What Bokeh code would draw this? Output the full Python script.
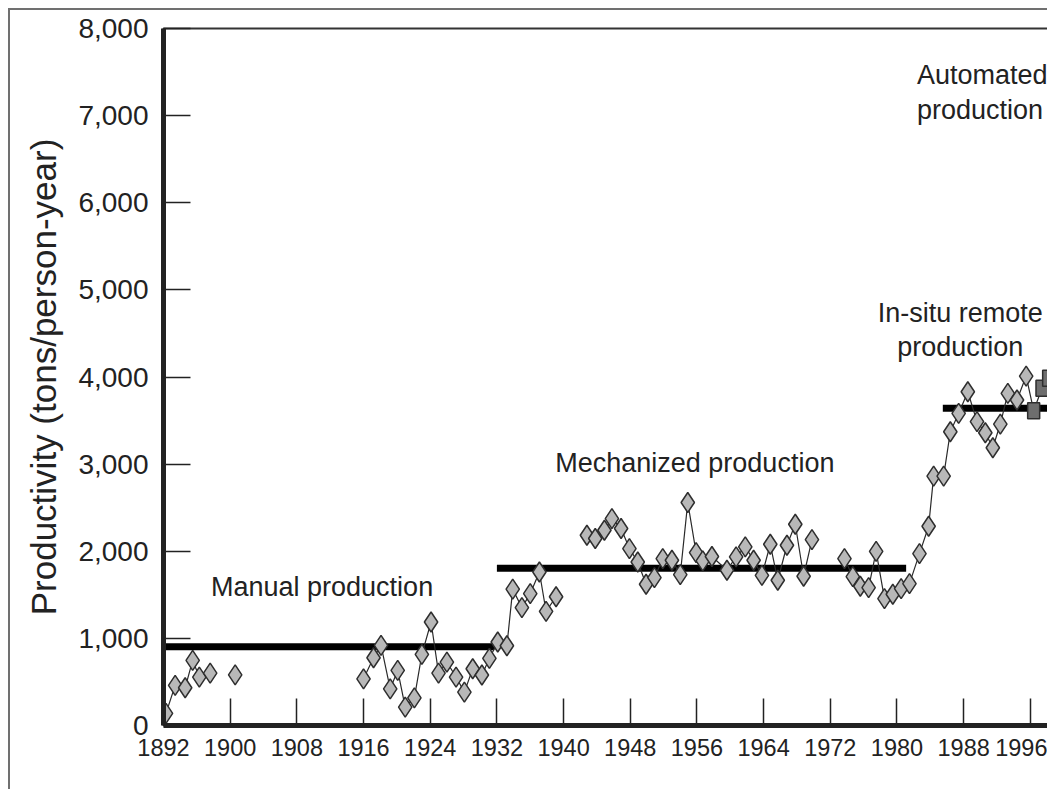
import numpy as np
from bokeh.plotting import figure
from bokeh.models import Range1d, FixedTicker, NumeralTickFormatter, Label, ColumnDataSource
from bokeh.embed import file_html
from bokeh.resources import INLINE

# ---------------- data ----------------
x_ticks = list(range(1892, 1997, 8))
y_ticks = list(range(0, 8001, 1000))

# annual productivity, diamonds; NaN separates unconnected runs
years = [1892.3, 1893.4, 1894.6, 1895.5, 1896.3, 1897.6, np.nan,
         1900.6, np.nan,
         1916.0, 1917.2, 1918.1, 1919.2, 1920.1, 1921.0, 1922.1, 1923.0, 1924.1,
         1925.0, 1926.0, 1927.1, 1928.1, 1929.1, 1930.2, 1931.1, 1932.1, 1933.2,
         1933.9, 1935.0, 1936.0, 1937.1, 1937.9, 1939.1, np.nan,
         1942.8, 1943.8, 1944.9, 1945.8, 1946.9, 1947.9, 1948.9, 1949.9, 1950.9,
         1951.9, 1953.0, 1954.0, 1954.9, 1955.9, 1956.7, 1957.8, 1959.6, 1960.7,
         1961.8, 1962.8, 1963.8, 1964.8, 1965.7, 1966.8, 1967.8, 1968.8, 1969.8, np.nan,
         1973.7, 1974.7, 1975.6, 1976.6, 1977.5, 1978.5, 1979.5, 1980.5, 1981.5,
         1982.7, 1983.8, 1984.4, 1985.6, 1986.4, 1987.4, 1988.5, 1989.6, 1990.6,
         1991.5, 1992.4, 1993.3, 1994.4, 1995.5]
productivity = [140, 460, 433, 747, 556, 602, np.nan,
                582, np.nan,
                536, 778, 920, 421, 632, 211, 318, 816, 1188,
                602, 728, 556, 383, 651, 580, 770, 958, 915,
                1565, 1353, 1513, 1762, 1310, 1478, np.nan,
                2184, 2146, 2241, 2375, 2261, 2031, 1877, 1621, 1697,
                1916, 1897, 1732, 2560, 1985, 1890, 1940, 1782, 1935,
                2050, 1897, 1724, 2080, 1667, 2069, 2310, 1713, 2134, np.nan,
                1916, 1708, 1598, 1582, 1998, 1456, 1506, 1571, 1628,
                1973, 2287, 2862, 2862, 3372, 3582, 3831, 3487, 3360,
                3188, 3460, 3812, 3736, 4011]

# later years, squares
sq_years = [1996.4, 1997.4, 1998.2]
sq_productivity = [3613, 3870, 3985]

# era averages (thick bars)
era_start = [1892.0, 1932.0, 1985.5]
era_end = [1931.7, 1981.1, 2005.0]
era_mean = [903, 1805, 3640]

y_title = "Productivity (tons/person-year)"
FONT = "Liberation Sans"
INK = "#222222"

# ---------------- figure ----------------
p = figure(width=1039, height=781, title=None,
           x_range=Range1d(1892, 1998.3), y_range=Range1d(0, 8000),
           output_backend="svg", toolbar_location=None,
           min_border_left=153, min_border_top=18, min_border_bottom=66, min_border_right=0)
p.styles = {"margin-left": "8px", "margin-top": "8px",
            "border-left": "2px solid #707070", "border-top": "2px solid #707070"}
p.grid.visible = False
p.outline_line_color = "#333333"
p.outline_line_width = 2
p.background_fill_color = "white"
p.border_fill_color = "white"

# axes
for ax in (p.xaxis[0], p.yaxis[0]):
    ax.axis_line_width = 5
    ax.axis_line_color = INK
    ax.major_tick_in = 27
    ax.major_tick_out = 0
    ax.major_tick_line_width = 1.5
    ax.major_tick_line_color = INK
    ax.minor_tick_line_color = None
    ax.major_label_text_font = FONT
    ax.major_label_text_color = INK

p.xaxis.ticker = FixedTicker(ticks=x_ticks)
p.xaxis.major_label_text_font_size = "23.5px"
p.xaxis.major_label_standoff = 13

p.yaxis.ticker = FixedTicker(ticks=y_ticks)
p.yaxis.formatter = NumeralTickFormatter(format="0,0")
p.yaxis.major_label_text_font_size = "28px"
p.yaxis.major_label_standoff = 15
p.yaxis.axis_label = y_title
p.yaxis.axis_label_text_font = FONT
p.yaxis.axis_label_text_font_style = "normal"
p.yaxis.axis_label_text_font_size = "35px"
p.yaxis.axis_label_text_color = INK
p.yaxis.axis_label_standoff = 12

# era average bars
p.segment(x0=era_start, x1=era_end, y0=era_mean, y1=era_mean,
          line_color="black", line_width=7, line_cap="butt")

# connecting line (annual series continues into the square series)
line_x = years + sq_years
line_y = productivity + sq_productivity
p.line(line_x, line_y, line_color="#2a2a2a", line_width=1.2)

src = ColumnDataSource(dict(x=[v for v in years if not np.isnan(v)],
                            y=[v for v in productivity if not np.isnan(v)]))
p.scatter("x", "y", source=src, marker="diamond", size=20,
          fill_color="#b8b8b8", line_color="#2e2e2e", line_width=1.5)

p.rect(x=sq_years, y=sq_productivity, width=12, height=16,
       width_units="screen", height_units="screen",
       fill_color="#6e6e6e", line_color="#2e2e2e", line_width=1.5)

# era labels
def add_label(x, y, text, align="left"):
    p.add_layout(Label(x=x, y=y, text=text, text_font=FONT, text_font_size="27px",
                       text_color=INK, text_align=align, text_baseline="middle"))

add_label(1897.7, 1586, "Manual production")
add_label(1939.0, 3011, "Mechanized production")
add_label(1987.6, 4736, "In-situ remote", align="center")
add_label(1987.6, 4345, "production", align="center")
add_label(1982.4, 7471, "Automated")
add_label(1982.4, 7069, "production")

open("out.html", "w").write(file_html(p, INLINE))
